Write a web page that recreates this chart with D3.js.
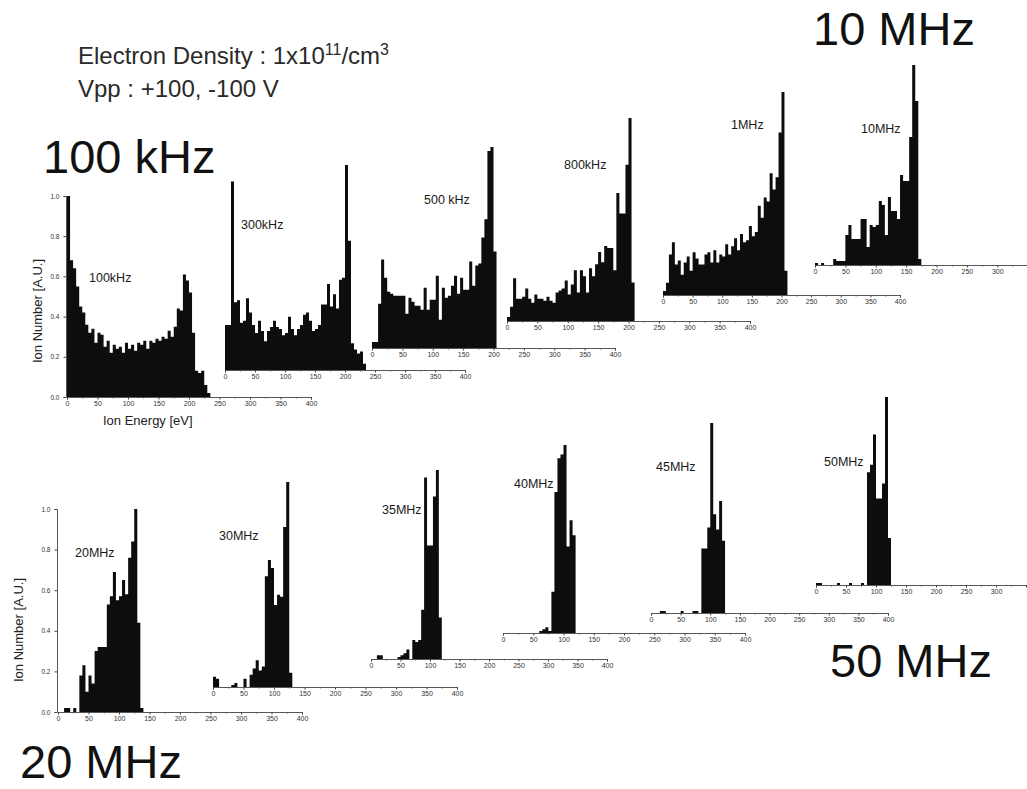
<!DOCTYPE html>
<html>
<head>
<meta charset="utf-8">
<script src="https://cdn.jsdelivr.net/npm/d3@7"></script>
<style>
  body { margin: 0; background: #fff; }
  svg { display: block; }
  text { font-family: "Liberation Sans", Arial, sans-serif; }
</style>
</head>
<body>
<div id="chart"></div>
<script>
// ion energy distributions, 5 eV bins starting at 0 eV, normalised to the tallest bin
var binWidth = 5;
var xTicks = [0, 50, 100, 150, 200, 250, 300, 350, 400];
var yTicks = [0, 0.2, 0.4, 0.6, 0.8, 1.0];

var freqLabels = ["100kHz", "300kHz", "500 kHz", "800kHz", "1MHz", "10MHz",
                  "20MHz", "30MHz", "35MHz", "40MHz", "45MHz", "50MHz"];

var ion100k = [1.0, 0.68, 0.64, 0.55, 0.45, 0.42, 0.36, 0.32, 0.34, 0.27, 0.32, 0.31, 0.25, 0.28, 0.22, 0.26,
  0.24, 0.25, 0.22, 0.27, 0.24, 0.26, 0.23, 0.27, 0.26, 0.28, 0.24, 0.28, 0.27, 0.29, 0.28, 0.30, 0.29, 0.33,
  0.30, 0.35, 0.44, 0.43, 0.61, 0.58, 0.52, 0.32, 0.13, 0.12, 0.13, 0.06, 0.02];
var ion300k = [0.22, 0.22, 0.92, 0.33, 0.34, 0.23, 0.24, 0.35, 0.28, 0.22, 0.18, 0.24, 0.19, 0.14, 0.19, 0.21,
  0.24, 0.21, 0.20, 0.17, 0.18, 0.26, 0.20, 0.17, 0.20, 0.22, 0.27, 0.28, 0.24, 0.19, 0.20, 0.22, 0.32, 0.32,
  0.42, 0.31, 0.37, 0.30, 0.44, 0.45, 1.0, 0.63, 0.13, 0.10, 0.08, 0.09, 0.03];
var ion500k = [0.03, 0.03, 0.22, 0.44, 0.35, 0.28, 0.27, 0.26, 0.26, 0.26, 0.26, 0.17, 0.25, 0.23, 0.21, 0.21,
  0.19, 0.30, 0.19, 0.24, 0.24, 0.36, 0.14, 0.30, 0.25, 0.26, 0.31, 0.36, 0.27, 0.35, 0.29, 0.29, 0.43, 0.31,
  0.41, 0.42, 0.55, 0.64, 0.98, 1.0, 0.48];
var ion800k = [0.02, 0.07, 0.21, 0.11, 0.11, 0.12, 0.16, 0.11, 0.09, 0.13, 0.11, 0.11, 0.10, 0.12, 0.10, 0.09,
  0.14, 0.15, 0.16, 0.20, 0.13, 0.18, 0.25, 0.14, 0.25, 0.22, 0.14, 0.26, 0.22, 0.28, 0.34, 0.29, 0.37, 0.36,
  0.36, 0.25, 0.63, 0.53, 0.53, 0.77, 1.0, 0.19];
var ion1M = [0.02, 0.06, 0.20, 0.26, 0.15, 0.17, 0.10, 0.16, 0.19, 0.12, 0.21, 0.18, 0.15, 0.15, 0.20, 0.21,
  0.16, 0.22, 0.16, 0.20, 0.19, 0.25, 0.20, 0.24, 0.28, 0.22, 0.30, 0.26, 0.27, 0.34, 0.29, 0.31, 0.44, 0.38,
  0.48, 0.46, 0.60, 0.52, 0.58, 0.80, 1.0, 0.12];
var ion10M = [0.01, 0, 0.01, 0, 0, 0, 0.03, 0.02, 0.02, 0.02, 0.15, 0.20, 0.13, 0.13, 0.13, 0.23, 0.23, 0.09,
  0.20, 0.19, 0.20, 0.32, 0.30, 0.15, 0.34, 0.27, 0.27, 0.23, 0.45, 0.42, 0.42, 0.64, 1.0, 0.82, 0.03];
var ion20M = [0, 0, 0.02, 0.02, 0, 0.02, 0, 0.18, 0.23, 0.10, 0.18, 0.14, 0.30, 0.32, 0.32, 0.32, 0.53, 0.57,
  0.69, 0.55, 0.57, 0.65, 0.58, 0.76, 0.84, 1.0, 0.44, 0.02];
var ion30M = [0.05, 0.04, 0, 0, 0, 0, 0.01, 0.02, 0, 0, 0.04, 0, 0.06, 0.09, 0.13, 0.08, 0.10, 0.54, 0.62, 0.58,
  0.40, 0.45, 0.44, 0.78, 1.0, 0.07];
var ion35M = [0, 0, 0.02, 0.02, 0, 0, 0, 0, 0, 0.01, 0.02, 0.03, 0.05, 0, 0.10, 0.09, 0.10, 0.26, 0.96, 0.60,
  0.60, 0.86, 1.0, 0.22];
var ion40M = [0, 0, 0, 0, 0, 0, 0, 0, 0, 0, 0, 0, 0.01, 0.02, 0.03, 0.01, 0.22, 0.75, 0.93, 0.95, 1.0, 0.46,
  0.60, 0.52];
var ion45M = [0, 0, 0, 0.01, 0.01, 0, 0, 0, 0, 0, 0.01, 0, 0, 0, 0.01, 0.01, 0, 0.34, 0.34, 0.45, 1.0, 0.52,
  0.44, 0.59, 0.38];
var ion50M = [0.01, 0.01, 0, 0, 0, 0, 0, 0.01, 0, 0, 0, 0.01, 0, 0, 0, 0.01, 0, 0.60, 0.64, 0.80, 0.46, 0.46,
  0.54, 1.0, 0.25];

var series = [ion100k, ion300k, ion500k, ion800k, ion1M, ion10M,
              ion20M, ion30M, ion35M, ion40M, ion45M, ion50M];

// where each scanned panel sits on the page (pixel of 0 eV / 400 eV, baseline / value 1.0, label spot)
var layout = [
  {x0: 67,  x1: 311,  y0: 397, y1: 196, lx: 89,  ly: 282, yAxis: true, ylx: 38, yly: 311},
  {x0: 225, x1: 465,  y0: 370, y1: 165, lx: 241, ly: 229},
  {x0: 372, x1: 615,  y0: 348, y1: 147, lx: 424, ly: 204},
  {x0: 507, x1: 750,  y0: 321, y1: 118, lx: 564, ly: 169},
  {x0: 663, x1: 900,  y0: 295, y1: 92,  lx: 731, ly: 129},
  {x0: 815, x1: 1058, y0: 265, y1: 65,  lx: 861, ly: 133},
  {x0: 58,  x1: 302,  y0: 712, y1: 509, lx: 75,  ly: 557, yAxis: true, ylx: 19, yly: 630},
  {x0: 213, x1: 457,  y0: 687, y1: 482, lx: 219, ly: 540},
  {x0: 371, x1: 607,  y0: 659, y1: 470, lx: 382, ly: 514},
  {x0: 503, x1: 745,  y0: 633, y1: 445, lx: 514, ly: 488},
  {x0: 651, x1: 888,  y0: 613, y1: 423, lx: 656, ly: 471},
  {x0: 816, x1: 1056, y0: 585, y1: 397, lx: 824, ly: 466}
];

var svg = d3.select("#chart")
  .append("svg")
  .attr("width", 1027)
  .attr("height", 789);

// panels are pasted left to right, each one covering the tail of the previous one
series.forEach(function (vals, k) {
  var L = layout[k];
  var x = d3.scaleLinear().domain([0, 400]).range([L.x0, L.x1]);
  var y = d3.scaleLinear().domain([0, 1]).range([L.y0, L.y1]);
  var g = svg.append("g");

  var lastBar = x(vals.length * binWidth);
  g.append("rect")
    .attr("x", L.x0 - 4)
    .attr("y", L.y1 - 6)
    .attr("width", Math.max(lastBar + 6, L.x1 + 10) - L.x0)
    .attr("height", L.y0 - L.y1 + 20)
    .attr("fill", "#fff");

  // x axis, labels only where they fit on the page
  var shown = xTicks.filter(function (v) { return x(v) < 1012; });
  var xa = g.append("g")
    .attr("transform", "translate(0," + L.y0 + ")")
    .call(d3.axisBottom(x).tickValues(xTicks).tickSize(2.5).tickPadding(2)
      .tickFormat(function (v) { return shown.indexOf(v) >= 0 ? v : ""; }));
  xa.select(".domain").attr("stroke", "#444").attr("stroke-width", 0.9);
  xa.selectAll(".tick line").attr("stroke", "#444");
  xa.selectAll("text").attr("font-size", 7).attr("fill", "#333");
  g.append("g")
    .attr("transform", "translate(0," + L.y0 + ")")
    .call(d3.axisBottom(x).tickValues(d3.range(25, 400, 50)).tickSize(1.5).tickFormat(""))
    .call(function (s) {
      s.select(".domain").remove();
      s.selectAll("line").attr("stroke", "#555");
    });

  if (L.yAxis) {
    var ya = g.append("g")
      .attr("transform", "translate(" + (L.x0 - 1) + ",0)")
      .call(d3.axisLeft(y).tickValues(yTicks).tickSize(2.5).tickPadding(4).tickFormat(d3.format(".1f")));
    ya.select(".domain").attr("stroke", "#444").attr("stroke-width", 0.9);
    ya.selectAll(".tick line").attr("stroke", "#444");
    ya.selectAll("text").attr("font-size", 6.5).attr("fill", "#333");
    g.append("text")
      .attr("transform", "translate(" + (L.ylx + 4) + "," + L.yly + ") rotate(-90)")
      .attr("text-anchor", "middle")
      .attr("font-size", 13)
      .attr("fill", "#222")
      .text("Ion Number [A.U.]");
  }

  // histogram drawn as one stepped area
  var pts = vals.map(function (v, i) { return [i * binWidth, v]; });
  pts.push([vals.length * binWidth, vals[vals.length - 1]]);
  var area = d3.area()
    .curve(d3.curveStepAfter)
    .x(function (d) { return x(d[0]); })
    .y0(L.y0)
    .y1(function (d) { return y(d[1]); });
  g.append("path")
    .datum(pts)
    .attr("d", area)
    .attr("fill", "#0d0d0d");

  g.append("text")
    .attr("x", L.lx)
    .attr("y", L.ly)
    .attr("font-size", 12.5)
    .attr("fill", "#1a1a1a")
    .text(freqLabels[k]);
});

svg.append("text")
  .attr("x", 103)
  .attr("y", 425)
  .attr("font-size", 13)
  .attr("fill", "#222")
  .text("Ion Energy [eV]");

// header notes
var note = svg.append("text")
  .attr("x", 78)
  .attr("y", 64)
  .attr("font-size", 24)
  .attr("fill", "#2a2a2a");
note.append("tspan").text("Electron Density : 1x10");
note.append("tspan").attr("dy", -9).attr("font-size", 16).text("11");
note.append("tspan").attr("dy", 9).text("/cm");
note.append("tspan").attr("dy", -9).attr("font-size", 16).text("3");

svg.append("text")
  .attr("x", 78)
  .attr("y", 97)
  .attr("font-size", 24)
  .attr("fill", "#2a2a2a")
  .text("Vpp : +100, -100 V");

var bigLabels = [
  {t: "100 kHz", x: 43, y: 173},
  {t: "10 MHz", x: 813, y: 45},
  {t: "50 MHz", x: 830, y: 677},
  {t: "20 MHz", x: 20, y: 778}
];
svg.selectAll("text.big")
  .data(bigLabels)
  .enter()
  .append("text")
  .attr("class", "big")
  .attr("x", function (d) { return d.x; })
  .attr("y", function (d) { return d.y; })
  .attr("font-size", 47)
  .attr("fill", "#111")
  .text(function (d) { return d.t; });
</script>
</body>
</html>
